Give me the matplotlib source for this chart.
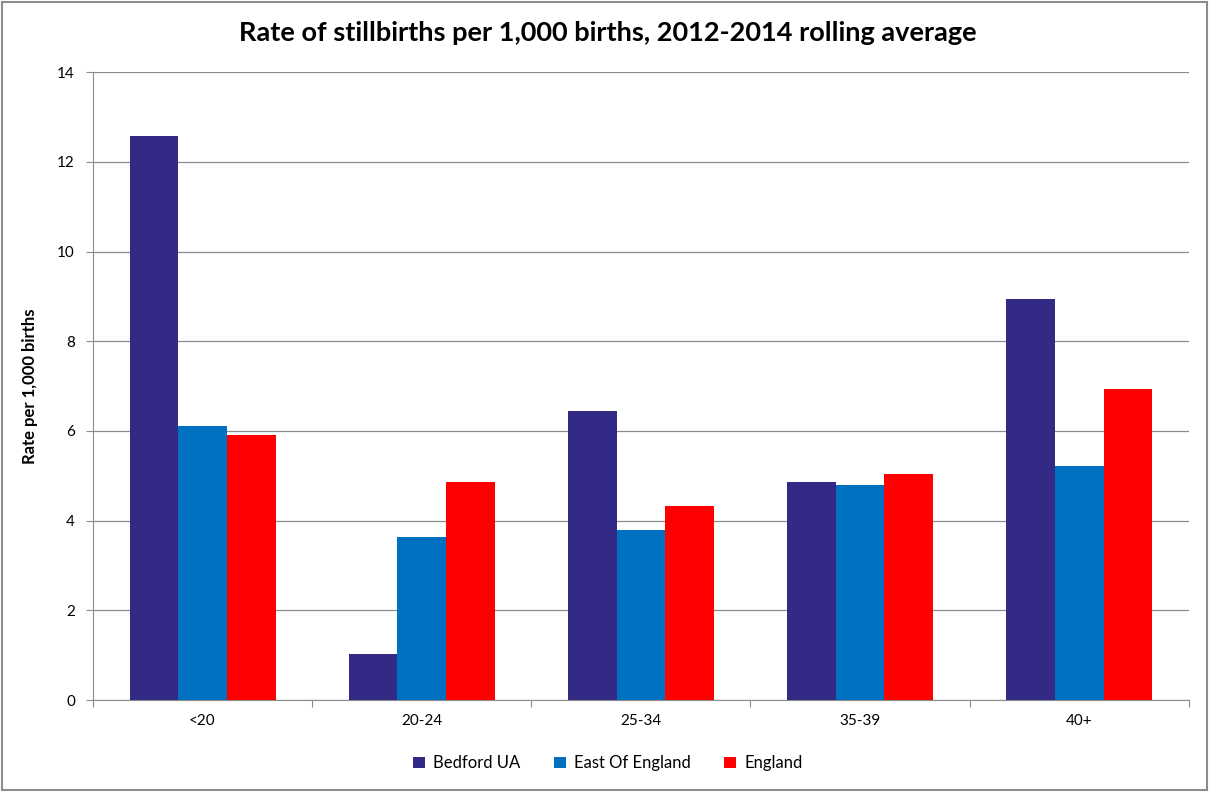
import matplotlib
matplotlib.use("Agg")
import matplotlib.pyplot as plt
import matplotlib.patches as patches
import numpy as np

# data
age_groups = ["<20", "20-24", "25-34", "35-39", "40+"]
bedford = [12.57, 1.03, 6.44, 4.87, 8.95]
east_of_england = [6.10, 3.63, 3.80, 4.79, 5.23]
england = [5.92, 4.87, 4.32, 5.03, 6.93]
series_names = ["Bedford UA", "East Of England", "England"]
series_colors = ["#332a86", "#0070c0", "#ff0000"]

plt.rcParams['font.family'] = ['Lato', 'DejaVu Sans']

fig = plt.figure(figsize=(12.23, 7.92), dpi=100)
ax = fig.add_axes([0.076, 0.116, 0.896, 0.793])

x = np.arange(len(age_groups))
w = 0.222
for i, (vals, name, col) in enumerate(zip([bedford, east_of_england, england],
                                          series_names, series_colors)):
    ax.bar(x + (i - 1) * w, vals, width=w, color=col, label=name, zorder=3)

ax.set_xlim(-0.5, len(age_groups) - 0.5)
ax.set_ylim(0, 14)
ax.set_yticks(np.arange(0, 15, 2))
ax.yaxis.grid(True, color="#8c8c8c", linewidth=0.9, zorder=0)

# category boundaries get tick marks, labels sit at centres
ax.set_xticks(np.arange(-0.5, len(age_groups), 1.0))
ax.set_xticklabels([])
ax.set_xticks(x, minor=True)
ax.set_xticklabels(age_groups, minor=True)
ax.tick_params(axis="x", which="minor", length=0, pad=10, labelsize=11)
ax.tick_params(axis="x", which="major", length=5, color="#8c8c8c")
ax.tick_params(axis="y", length=5, color="#8c8c8c", labelsize=11, pad=8)

for s in ["top", "right"]:
    ax.spines[s].set_visible(False)
for s in ["left", "bottom"]:
    ax.spines[s].set_color("#8c8c8c")

ax.set_ylabel("Rate per 1,000 births", fontsize=12, fontweight="bold", labelpad=14)
fig.text(0.497, 0.958, "Rate of stillbirths per 1,000 births, 2012-2014 rolling average",
         ha="center", va="center", fontsize=19.5, fontweight="bold")

fig.legend(loc="center", bbox_to_anchor=(0.497, 0.036), ncol=3, frameon=False,
           fontsize=12, handlelength=0.7, handleheight=0.7, columnspacing=2.0,
           handletextpad=0.5)

# outer chart border
fig.patches.append(patches.Rectangle((0.002, 0.002), 0.985, 0.995, transform=fig.transFigure,
                                     fill=False, edgecolor="#8c8c8c", linewidth=1.5))

fig.savefig("out.png", dpi=100)
